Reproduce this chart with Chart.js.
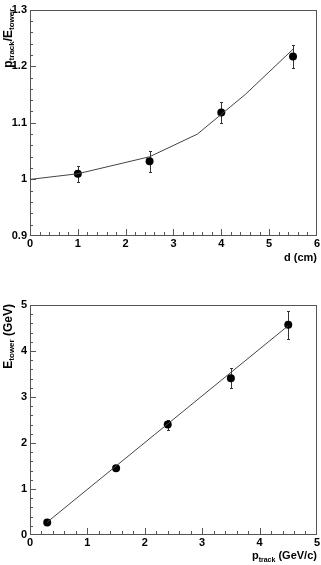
<!DOCTYPE html>
<html>
<head>
<meta charset="utf-8">
<script src="https://cdn.jsdelivr.net/npm/chart.js@4.4.1/dist/chart.umd.min.js"></script>
<style>
  html, body { margin: 0; padding: 0; background: #fff; }
  #wrap { position: relative; width: 321px; height: 565px; }
  .panel { position: absolute; left: 0; }
</style>
</head>
<body>
<div id="wrap">
  <div class="panel" style="top:0"><canvas id="topChart" width="321" height="280"></canvas></div>
  <div class="panel" style="top:280px"><canvas id="bottomChart" width="321" height="285"></canvas></div>
</div>
<script>
// top panel: p_track/E_tower vs d
const dVals = [1, 2.5, 4, 5.5];
const ratioVals = [1.01, 1.032, 1.118, 1.217];
const ratioErr = [0.014, 0.019, 0.019, 0.02];
const curveD = [0, 1, 2.5, 3.5, 4.5, 5.5];
const curveRatio = [1.0, 1.01, 1.04, 1.08, 1.15, 1.23];

// bottom panel: E_tower vs p_track
const pVals = [0.3, 1.5, 2.4, 3.5, 4.5];
const eVals = [0.27, 1.45, 2.4, 3.41, 4.57];
const eErr = [0.03, 0.04, 0.11, 0.22, 0.3];
const fitP = [0.3, 4.5];
const fitE = [0.28, 4.55];

const FONT = "'Liberation Sans', Arial, Helvetica, sans-serif";

function pts(xs, ys) {
  return xs.map((x, i) => ({ x: x, y: ys[i] }));
}

// draws text made of normal / subscript parts, ending at x = 0
function drawParts(ctx, parts, size, subSize, drop) {
  const widths = [];
  let w = 0;
  parts.forEach(p => {
    ctx.font = 'bold ' + (p.sub ? subSize : size) + 'px ' + FONT;
    const pw = ctx.measureText(p.t).width;
    widths.push(pw);
    w += pw;
  });
  let x = -w;
  parts.forEach((p, i) => {
    ctx.font = 'bold ' + (p.sub ? subSize : size) + 'px ' + FONT;
    ctx.fillText(p.t, x, p.sub ? drop : 0);
    x += widths[i];
  });
}

// ROOT-like frame, inward ticks, error bars and axis titles
function rootStyle(cfg) {
  return {
    id: 'rootStyle',
    beforeDatasetsDraw(chart) {
      const ctx = chart.ctx;
      const a = chart.chartArea;
      const xs = chart.scales.x, ys = chart.scales.y;
      const L = Math.round(a.left), R = Math.round(a.right);
      const T = Math.round(a.top), B = Math.round(a.bottom);
      ctx.save();

      // frame as 1px filled strips
      ctx.fillStyle = '#555';
      ctx.fillRect(L, T, R - L, 1);
      ctx.fillRect(L, B - 1, R - L, 1);
      ctx.fillRect(L, T, 1, B - T);
      ctx.fillRect(R - 1, T, 1, B - T);

      // inward ticks, 5 minor divisions per major step
      const xMinor = cfg.xStep / 5, yMinor = cfg.yStep / 5;
      const nx = Math.round((cfg.xMax - cfg.xMin) / xMinor);
      for (let i = 0; i <= nx; i++) {
        const px = Math.min(Math.round(xs.getPixelForValue(cfg.xMin + i * xMinor)), R - 1);
        const len = i % 5 === 0 ? 7 : 4;
        ctx.fillRect(px, B - len, 1, len);
      }
      const ny = Math.round((cfg.yMax - cfg.yMin) / yMinor);
      for (let i = 0; i <= ny; i++) {
        const py = Math.min(Math.round(ys.getPixelForValue(cfg.yMin + i * yMinor)), B - 1);
        const len = i % 5 === 0 ? 6 : 3;
        ctx.fillRect(L, py, len, 1);
      }

      // error bars
      ctx.fillStyle = '#333';
      cfg.ptX.forEach((x, i) => {
        const px = Math.round(xs.getPixelForValue(x));
        const y1 = Math.round(ys.getPixelForValue(cfg.ptY[i] + cfg.err[i]));
        const y2 = Math.round(ys.getPixelForValue(cfg.ptY[i] - cfg.err[i]));
        ctx.fillRect(px, y1, 1, y2 - y1 + 1);
        ctx.fillRect(px - 1, y1, 3, 1);
        ctx.fillRect(px - 1, y2, 3, 1);
      });
      ctx.restore();
    },
    afterDraw(chart) {
      const ctx = chart.ctx;
      const a = chart.chartArea;
      ctx.save();
      ctx.fillStyle = '#000';
      ctx.textBaseline = 'alphabetic';
      ctx.textAlign = 'left';
      ctx.save();
      ctx.translate(a.right, cfg.xTitleY);
      drawParts(ctx, cfg.xTitle, 11, 7, 3);
      ctx.restore();
      ctx.save();
      ctx.translate(11.5, a.top - 1);
      ctx.rotate(-Math.PI / 2);
      drawParts(ctx, cfg.yTitle, 12, 8, 2);
      ctx.restore();
      ctx.restore();
    }
  };
}

function makeChart(id, cfg) {
  return new Chart(document.getElementById(id), {
    type: 'scatter',
    data: {
      datasets: [
        {
          data: pts(cfg.lineX, cfg.lineY),
          showLine: true,
          pointRadius: 0,
          borderColor: '#444',
          borderWidth: 1,
          fill: false
        },
        {
          data: pts(cfg.ptX, cfg.ptY),
          pointRadius: 4,
          pointBackgroundColor: '#000',
          pointBorderWidth: 0,
          showLine: false
        }
      ]
    },
    options: {
      responsive: false,
      animation: false,
      devicePixelRatio: 1,
      layout: { padding: { top: cfg.padTop, right: 4, left: 0, bottom: 0 } },
      plugins: {
        legend: { display: false },
        tooltip: { enabled: false }
      },
      scales: {
        x: {
          type: 'linear', min: cfg.xMin, max: cfg.xMax,
          grid: { display: false, drawTicks: false, tickLength: 0 },
          border: { display: false },
          ticks: {
            stepSize: cfg.xStep, padding: 1, maxRotation: 0, autoSkip: false,
            color: '#000', font: { family: FONT, size: 11, weight: 'bold' },
            callback: v => String(+v.toFixed(1))
          },
          afterFit(s) { s.height = cfg.xAxisH; }
        },
        y: {
          type: 'linear', min: cfg.yMin, max: cfg.yMax,
          grid: { display: false, drawTicks: false, tickLength: 0 },
          border: { display: false },
          ticks: {
            stepSize: cfg.yStep, padding: 3, autoSkip: false,
            color: '#000', font: { family: FONT, size: 11, weight: 'bold' },
            callback: v => String(+v.toFixed(1))
          },
          afterFit(s) { s.width = 30; }
        }
      }
    },
    plugins: [rootStyle(cfg)]
  });
}

makeChart('topChart', {
  lineX: curveD, lineY: curveRatio,
  ptX: dVals, ptY: ratioVals, err: ratioErr,
  xMin: 0, xMax: 6, xStep: 1,
  yMin: 0.9, yMax: 1.3, yStep: 0.1,
  padTop: 5, xAxisH: 44, xTitleY: 261,
  xTitle: [{ t: 'd (cm)' }],
  yTitle: [{ t: 'p' }, { t: 'track', sub: true }, { t: '/E' }, { t: 'tower', sub: true }]
});

makeChart('bottomChart', {
  lineX: fitP, lineY: fitE,
  ptX: pVals, ptY: eVals, err: eErr,
  xMin: 0, xMax: 5, xStep: 1,
  yMin: 0, yMax: 5, yStep: 1,
  padTop: 25, xAxisH: 30, xTitleY: 279,
  xTitle: [{ t: 'p' }, { t: 'track', sub: true }, { t: ' (GeV/c)' }],
  yTitle: [{ t: 'E' }, { t: 'tower', sub: true }, { t: ' (GeV)' }]
});
</script>
</body>
</html>
